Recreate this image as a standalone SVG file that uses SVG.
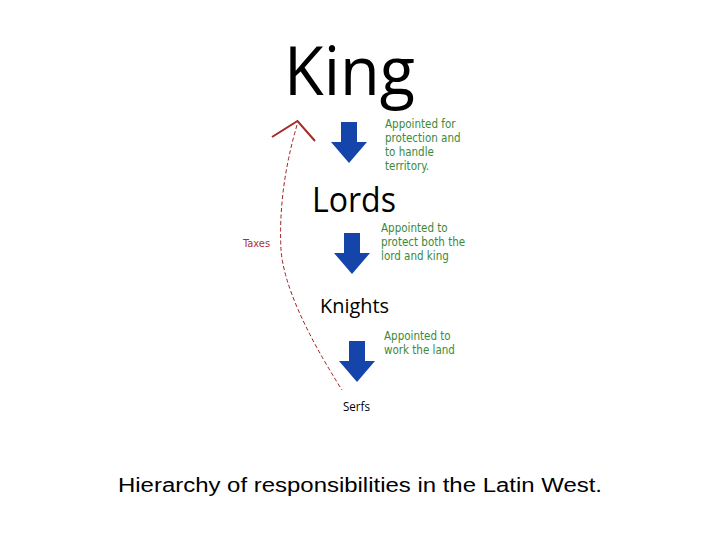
<svg xmlns="http://www.w3.org/2000/svg" width="720" height="540" viewBox="0 0 720 540">
<style>
.lvl{font-family:"Segoe UI","Open Sans","Liberation Sans",sans-serif;fill:#000}
.note{font-family:"DejaVu Sans Condensed","DejaVu Sans","Liberation Sans",sans-serif;font-size:11.5px;fill:#3a8a3a}
.red{font-family:"DejaVu Sans Condensed","DejaVu Sans","Liberation Sans",sans-serif;font-size:11px;fill:#b03030}
.cap{font-family:"Liberation Sans",Arial,sans-serif;font-size:20px;fill:#000}
.down{fill:#1545aa}
</style>
<defs>
<path id="arr" d="M-8,0 H8 V20 H18 L0,41 L-18,20 H-8 Z"/>
</defs>
<rect width="720" height="540" fill="#fff"/>
<g id="connectors">
<use href="#arr" class="down" x="349" y="122"/>
<use href="#arr" class="down" x="352" y="233"/>
<use href="#arr" class="down" x="357" y="341"/>
<path d="M297,125 Q278,190 281,250 Q285,300 342,390" fill="none" stroke="#a02020" stroke-width="1" stroke-dasharray="4,2.5"/>
<polyline points="272,137 297.5,121 315,141" fill="none" stroke="#a52a2a" stroke-width="2"/>
</g>
<g id="king"><text class="lvl" x="284" y="95" font-size="68" textLength="131" lengthAdjust="spacingAndGlyphs">King</text></g>
<g id="lords"><text class="lvl" x="312" y="212" font-size="35" textLength="84" lengthAdjust="spacingAndGlyphs">Lords</text></g>
<g id="knights"><text class="lvl" x="320" y="313" font-size="20" textLength="69" lengthAdjust="spacingAndGlyphs">Knights</text></g>
<g id="serfs"><text class="lvl" x="343" y="411" font-size="12" textLength="27" lengthAdjust="spacingAndGlyphs">Serfs</text></g>
<g id="note1">
<text class="note" x="385" y="128">Appointed for</text>
<text class="note" x="385" y="142">protection and</text>
<text class="note" x="385" y="156">to handle</text>
<text class="note" x="385" y="170">territory.</text>
</g>
<g id="note2">
<text class="note" x="381" y="232">Appointed to</text>
<text class="note" x="381" y="246">protect both the</text>
<text class="note" x="381" y="260">lord and king</text>
</g>
<g id="note3">
<text class="note" x="384" y="340">Appointed to</text>
<text class="note" x="384" y="354">work the land</text>
</g>
<g id="taxes"><text class="red" x="243" y="247">Taxes</text></g>
<g id="caption"><text class="cap" x="118" y="492" textLength="484" lengthAdjust="spacingAndGlyphs">Hierarchy of responsibilities in the Latin West.</text></g>
</svg>
